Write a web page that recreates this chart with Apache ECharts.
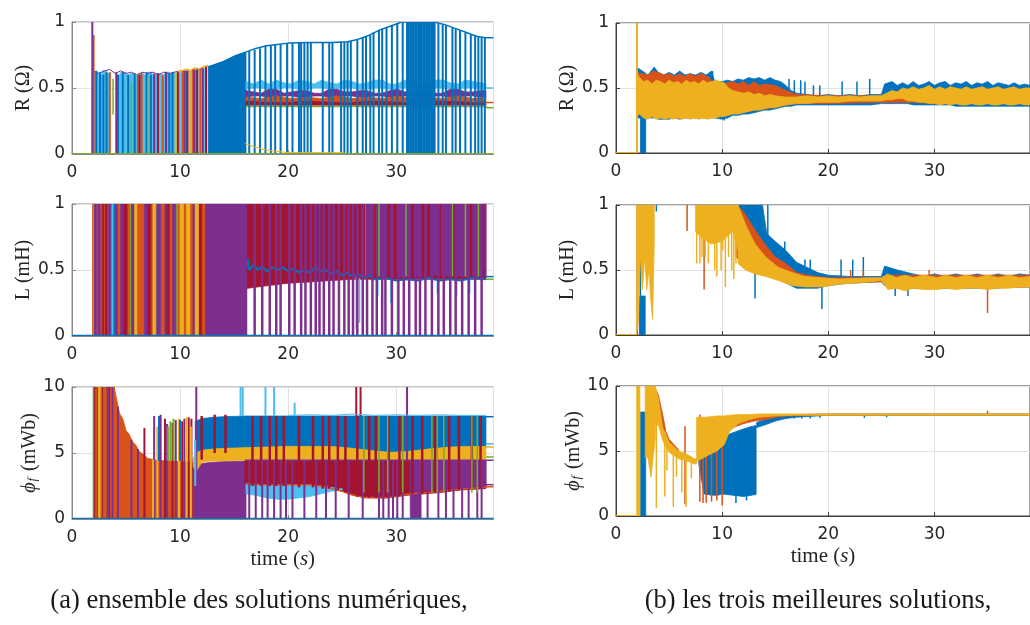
<!DOCTYPE html>
<html><head><meta charset="utf-8">
<script src="https://cdn.jsdelivr.net/npm/echarts@6/dist/echarts.min.js"></script>
<style>html,body{margin:0;padding:0;background:#fff}#c{width:1030px;height:625px}</style>
</head><body><div id="c"></div>
<script>
// ---------- axis ticks / labels ----------
const xTicks = [0, 10, 20, 30];
const xMax = 39;
const rTicks = [0, 0.5, 1];
const phiTicks = [0, 5, 10];
const captionA = '(a) ensemble des solutions numériques,';
const captionB = '(b) les trois meilleures solutions,';

// ---------- (a) R ----------
const aR_lblueBlocks = [[2.05,2.4,0,0.62],[2.4,2.8,0,0.6],[2.8,3.2,0,0.63],[3.2,3.5,0,0.61],[4.1,4.5,0,0.6],[4.5,5.0,0,0.62],[5.0,5.4,0,0.6],[5.4,5.8,0,0.61],[5.8,6.2,0,0.59],[6.2,6.6,0,0.61],[6.6,7.0,0,0.6],[7.0,7.4,0,0.62],[7.4,7.8,0,0.6],[7.8,8.2,0,0.61],[8.2,8.6,0,0.6],[8.6,9.0,0,0.62],[9.0,9.4,0,0.61],[9.4,10.0,0,0.62]];
const aR_purpleTop = [[2.0,0.63],[2.5,0.61],[3.0,0.63],[3.5,0.64],[4.0,0.61],[4.5,0.63],[5.0,0.61],[5.5,0.62],[6.0,0.6],[6.5,0.62],[7.0,0.61],[7.5,0.62],[8.0,0.6],[8.5,0.62],[9.0,0.61],[9.5,0.62],[10.0,0.63]];
const aR_yellowTop = [[9.8,0.62],[10.2,0.63],[10.6,0.64],[11.0,0.63],[11.4,0.65],[11.8,0.64],[12.2,0.66],[12.6,0.67]];
const aR_blueStripes = [[2.25,0,0.63],[2.6,0,0.62],[2.9,0,0.6],[3.2,0,0.62],[4.25,0,0.6],[4.7,0,0.62],[5.2,0,0.6],[5.8,0,0.61],[6.9,0,0.62],[7.3,0,0.6],[9.0,0,0.61],[9.3,0,0.62],[10.6,0,0.63],[11.5,0,0.64]];
const aR_orangeStripes = [[2.0,0,0.9],[3.5,0,0.62],[6.1,0,0.6],[6.45,0,0.61],[8.4,0,0.6],[10.25,0,0.63],[11.2,0,0.64],[11.9,0,0.65]];
const aR_dredStripes = [[6.25,0,0.6],[7.95,0,0.61],[9.8,0,0.62],[10.7,0,0.63],[11.6,0,0.64],[12.4,0,0.66]];
const aR_purpleStripes = [[1.88,0,1.0],[4.1,0,0.62],[7.6,0,0.61],[8.7,0,0.62],[10.4,0,0.63],[11.3,0,0.64],[12.1,0,0.65]];
const aR_greenStripes = [[3.8,0.3,0.57],[5.5,0,0.55],[7.0,0,0.58]];
const aR_yellowStripes = [[9.6,0,0.62],[10.9,0,0.63]];
const aR_lblueStripes = [[10.1,0,0.62],[10.5,0,0.63],[11.0,0,0.63],[11.8,0,0.64],[12.2,0,0.65]];
const aR_blueArea = [[12.6,0.66],[13,0.67],[14,0.7],[15,0.74],[16.1,0.77]];
const aR_blueEnv = [[12.6,0.66],[13,0.67],[14,0.7],[15,0.74],[16,0.77],[17,0.8],[18,0.82],[19,0.83],[20,0.84],[22,0.845],[24,0.845],[25.5,0.85],[26.5,0.87],[27.5,0.9],[28.5,0.94],[29.5,0.97],[30.5,1.0],[33.5,1.0],[34.5,0.98],[35.5,0.95],[36.5,0.92],[37.5,0.89],[38.3,0.88],[39,0.88]];
const aR_blueSpikes = [[16.4,0,0.78],[16.9,0,0.79],[17.4,0,0.8],[17.9,0,0.82],[18.4,0,0.82],[18.8,0,0.83],[19.3,0,0.83],[19.9,0,0.84],[20.4,0,0.84],[21.0,0,0.845],[21.2,0,0.845],[21.5,0,0.845],[21.8,0,0.845],[22.1,0,0.845],[23.2,0,0.845],[23.8,0,0.845],[24.1,0,0.845],[24.9,0,0.85],[25.2,0,0.85],[25.5,0,0.85],[25.8,0,0.855],[26.4,0,0.87],[26.9,0,0.88],[27.2,0,0.89],[27.6,0,0.9],[27.9,0,0.92],[28.4,0,0.94],[28.7,0,0.95],[29.1,0,0.96],[29.6,0,0.97],[30.1,0,0.99],[30.6,0,1],[31.0,0,1],[31.15,0,1],[31.3,0,1],[31.45,0,1],[31.6,0,1],[31.75,0,1],[31.9,0,1],[32.05,0,1],[32.2,0,1],[32.35,0,1],[32.5,0,1],[32.65,0,1],[32.8,0,1],[32.95,0,1],[33.1,0,1],[33.25,0,1],[33.4,0,1],[33.55,0,1],[33.9,0,0.99],[34.3,0,0.985],[34.6,0,0.975],[35.2,0,0.96],[35.5,0,0.95],[35.9,0,0.94],[36.4,0,0.92],[36.9,0,0.905],[37.3,0,0.895],[37.6,0,0.89],[37.9,0,0.885],[38.2,0,0.88]];
const aR_lblueBand = [[16.1,0.49,0.55],[16.8,0.5,0.53],[17.5,0.5,0.56],[18.2,0.49,0.53],[18.9,0.49,0.56],[19.6,0.5,0.54],[20.3,0.5,0.53],[21,0.49,0.56],[21.7,0.49,0.55],[22.4,0.5,0.53],[23.1,0.5,0.56],[23.8,0.49,0.54],[24.5,0.49,0.53],[25.2,0.5,0.56],[25.9,0.5,0.55],[26.6,0.49,0.53],[27.3,0.49,0.54],[28,0.5,0.56],[28.7,0.5,0.56],[29.4,0.49,0.53],[30.1,0.49,0.53],[30.8,0.5,0.56],[31.5,0.5,0.55],[32.2,0.49,0.53],[32.9,0.49,0.54],[33.6,0.5,0.56],[34.3,0.5,0.56],[35,0.49,0.54],[35.7,0.49,0.53],[36.4,0.5,0.56],[37.1,0.5,0.55],[37.8,0.49,0.54],[38.3,0.49,0.53]];
const aR_purpleBand = [[16.1,0.43,0.48],[16.8,0.44,0.47],[17.5,0.44,0.46],[18.2,0.43,0.49],[18.9,0.43,0.49],[19.6,0.44,0.46],[20.3,0.44,0.47],[21,0.43,0.48],[21.7,0.43,0.48],[22.4,0.44,0.46],[23.1,0.44,0.46],[23.8,0.43,0.49],[24.5,0.43,0.49],[25.2,0.44,0.47],[25.9,0.44,0.47],[26.6,0.43,0.48],[27.3,0.43,0.48],[28,0.44,0.46],[28.7,0.44,0.46],[29.4,0.43,0.48],[30.1,0.43,0.49],[30.8,0.44,0.47],[31.5,0.44,0.47],[32.2,0.43,0.48],[32.9,0.43,0.48],[33.6,0.44,0.46],[34.3,0.44,0.46],[35,0.43,0.49],[35.7,0.43,0.49],[36.4,0.44,0.47],[37.1,0.44,0.47],[37.8,0.43,0.48],[38.3,0.43,0.48]];
const aR_orangeBand = [[16.1,0.39,0.43],[17.5,0.4,0.42],[18.9,0.39,0.44],[20.3,0.4,0.42],[21.7,0.39,0.43],[23.1,0.4,0.42],[24.5,0.39,0.44],[25.9,0.4,0.42],[27.3,0.39,0.43],[28.7,0.4,0.42],[30.1,0.39,0.44],[31.5,0.4,0.42],[32.9,0.39,0.43],[34.3,0.4,0.42],[35.7,0.39,0.44],[37.1,0.4,0.42],[38.3,0.39,0.43]];
const aR_dredBand = [[16.1,0.37,0.4],[19,0.37,0.39],[22,0.37,0.4],[25,0.37,0.39],[28,0.37,0.4],[31,0.37,0.39],[34,0.37,0.4],[38.3,0.37,0.39]];
const aR_greenLine = [[16.1,0.36],[38.3,0.36],[38.4,0.35],[39,0.35]];
const aR_lblueEnd = [[38.3,0.5],[39,0.5]];
const aR_orangeEnd = [[38.3,0.39],[39,0.39]];
const aR_yellowLow = [[16,0.08],[17,0.05],[18,0.03],[20,0.01],[25,0.01],[25.5,0]];
const aR_greenBase = [[0,0],[39,0]];

// ---------- (a) L : colour blocks [t0, t1, lo, hi] ----------
const aL_orangeBlocks = [[1.9,2.0,0,1],[2.25,2.4,0,1],[2.6,2.8,0,1],[2.95,3.1,0,1],[3.6,3.7,0,1],[4.2,4.5,0,1],[5.1,5.4,0,1],[6.0,6.7,0,1],[7.3,7.5,0,1],[8.2,8.6,0,1],[9.0,9.3,0,1],[9.75,10.0,0,1],[10.3,10.6,0,1],[10.9,11.2,0,1],[12.0,12.35,0,1]];
const aL_greenBlocks = [[2.0,2.08,0,1],[3.25,3.35,0,1],[5.4,5.5,0,1],[7.7,7.85,0,1],[9.6,9.75,0,1]];
const aL_purpleBlocks = [[2.08,2.25,0,1],[2.4,2.6,0,1],[3.35,3.6,0,1],[3.95,4.2,0,1],[4.5,4.8,0,1],[5.5,5.8,0,1],[6.7,7.0,0,1],[7.85,8.2,0,1],[8.6,8.8,0,1],[9.3,9.6,0,1],[11.2,11.4,0,1],[12.35,16.1,0,1]];
const aL_dredBlocks = [[2.8,2.95,0,1],[3.1,3.25,0,1],[4.8,5.1,0,1],[7.0,7.3,0,1],[8.8,9.0,0,1],[11.7,12.0,0,1]];
const aL_yellowBlocks = [[5.8,6.0,0,1],[7.5,7.7,0,1],[10.0,10.3,0,1],[10.6,10.9,0,1],[11.4,11.7,0,1]];
const aL_lblueBlocks = [[3.7,3.8,0,1]];
const aL_blueBlocks = [[3.86,3.95,0,1]];
const aL_dredBand = [[16.1,0.36,1],[18,0.38,1],[20,0.4,1],[22,0.41,1],[24,0.42,1],[26,0.43,1],[28,0.43,1],[38.3,0.43,1]];
const aL_purpleBand = [[26.8,0.46,1],[30,0.45,1],[34,0.46,1],[38.3,0.45,1]];
const aL_dredStripes2 = [[27.0,0.45,1],[28.0,0.45,1],[29.3,0.45,1],[29.9,0.45,1],[31.5,0.45,1],[32.5,0.45,1],[33.0,0.45,1],[34.0,0.45,1],[35.3,0.45,1],[36.9,0.45,1],[38.0,0.45,1]];
const aL_greenStripes2 = [[27.2,0.45,1],[27.8,0.45,1],[28.4,0.45,1],[30.9,0.45,1],[35.2,0.45,1],[36.4,0.45,1],[37.6,0.45,1]];
const aL_purpleSpikes = [[16.1,0,1],[16.9,0,1],[17.6,0,1],[18.3,0,1],[18.9,0,1],[19.3,0,1],[20.1,0,1],[20.6,0,1],[21.2,0,1],[21.6,0,1],[22.1,0,1],[22.55,0,1],[22.9,0,1],[23.3,0,1],[23.8,0,1],[24.2,0,1],[24.7,0,1],[25.2,0,1],[25.6,0,1],[26.0,0,1],[26.4,0,1],[26.9,0,1],[27.3,0,1],[27.8,0,1],[28.2,0,1],[28.7,0,1],[29.0,0,1],[29.6,0,1],[30.2,0,1],[30.7,0,1],[31.2,0,1],[31.8,0,1],[32.2,0,1],[32.7,0,1],[33.3,0,1],[33.9,0,1],[34.4,0,1],[35.0,0,1],[35.5,0,1],[36.1,0,1],[36.7,0,1],[37.3,0,1],[37.9,0,1]];
const aL_blueLine = [[16.2,0.52],[16.3,0.58],[16.4,0.5],[16.8,0.54],[17.2,0.5],[17.6,0.53],[18,0.49],[18.5,0.52],[19,0.5],[19.5,0.52],[20,0.49],[20.5,0.51],[21,0.48],[21.5,0.5],[22,0.48],[22.5,0.52],[23,0.49],[23.5,0.5],[24,0.47],[24.5,0.49],[25,0.46],[25.5,0.48],[26,0.45],[26.5,0.47],[27,0.44],[27.5,0.46],[28,0.43],[29,0.44],[30,0.42],[31,0.43],[32,0.42],[33,0.44],[34,0.42],[35,0.43],[36,0.42],[37,0.44],[38.3,0.43]];
const aL_lblueDips = [[26.3,0.05,0.45],[26.6,0.1,0.44],[28.3,0.3,0.43],[29.5,0.25,0.43],[31.2,0.35,0.43],[33.8,0.32,0.43],[35.6,0.3,0.43],[36.8,0.32,0.43]];
const aL_blueEnd = [[38.3,0.45],[39,0.45]];
const aL_greenEnd = [[38.3,0.43],[39,0.43]];
const aL_blueBase = [[0,0],[39,0]];

// ---------- (a) phi_f ----------
const aP_greenBlocks0 = [[1.95,2.05,0,10],[3.0,3.1,0,10]];
const aP_dredBlocks0 = [[2.05,2.2,0,10],[2.75,2.9,0,10],[3.4,3.55,0,10]];
const aP_orangeBlocks0 = [[2.2,2.35,0,10],[2.6,2.75,0,10],[2.9,3.0,0,10],[3.1,3.25,0,10],[3.55,3.7,0,10],[3.8,3.92,0,10]];
const aP_purpleBlocks0 = [[2.35,2.45,0,10],[3.25,3.4,0,10],[3.7,3.8,0,10]];
const aP_yellowBlocks0 = [[2.45,2.6,0,10]];
const aP_orangeDecay = [[3.9,10],[4.4,8.0],[4.7,7.6],[5.0,6.7],[5.3,6.4],[5.6,5.85],[5.9,5.6],[6.25,5.1],[6.6,4.9],[7.0,4.6],[7.8,4.45],[9,4.4],[10,4.35],[11.2,4.3]];
const aP_purpleStripes1 = [[4.25,0,8.5],[5.5,0,6.0],[6.1,0,5.3],[7.6,0,7.8],[8.2,0,7.9],[8.8,0,7.2],[9.6,0,7.5],[10.4,0,7.6],[11.5,0,10]];
const aP_dredStripes1 = [[6.7,0,6.9],[8.6,0,7.6],[9.3,0,7.3],[10.2,0,7.4],[10.8,0,7.7],[11.05,0,7.6]];
const aP_yellowStripes1 = [[7.5,0,4.5],[7.9,0,7.0],[9.9,0,7.6],[10.6,0,7.7],[11.0,0,7.0]];
const aP_greenStripes1 = [[8.9,4.4,7.0],[9.1,4.4,7.4],[9.4,4.4,7.6]];
const aP_blueStripes1 = [[8.05,4.4,7.8],[10.0,4.4,7.5]];
const aP_lblueStripes1 = [[11.4,2.5,6.0]];
const aP_purpleArea = [[11.2,4.0],[12,4.2],[13,4.3],[14,4.35],[16.1,4.4]];
const aP_dredBand = [[16,2.6,4.45],[20,2.6,4.45],[24,2.3,4.45],[25.5,2.0,4.45],[27,1.6,4.45],[29,1.6,4.45],[31,1.8,4.45],[34,2.0,4.45],[36,2.2,4.45],[38.3,2.3,4.45]];
const aP_purpleBand = [[31.3,2.1,4.4],[33,2.2,4.4],[35,2.3,4.4],[38.3,2.4,4.4]];
const aP_purpleDense = [[31.3,4.4],[31.8,4.4],[32.3,4.4]];
const aP_lblueBand = [[16.1,1.9,2.7],[17,1.8,2.6],[18,1.6,2.6],[19,1.5,2.6],[20,1.5,2.6],[21,1.6,2.6],[22,1.7,2.6],[23,1.9,2.5],[24,2.1,2.4],[25,2.2,2.3]];
const aP_orangeLine = [[16.1,2.65],[18,2.6],[20,2.6],[22,2.6],[23,2.5],[24,2.3],[25,2.1],[26,1.8],[27,1.65],[29,1.6],[30,1.7],[31,1.9],[33,2.0],[35,2.2],[38.3,2.4],[38.4,2.45],[39,2.45]];
const aP_blueBand = [[11.4,5.0,7.4],[12,5.2,7.6],[13,5.3,7.7],[14,5.35,7.75],[16,5.4,7.8],[20,5.5,7.8],[25,5.45,7.8],[28,5.15,7.8],[30,5.05,7.8],[33,5.3,7.8],[36,5.5,7.8],[38.3,5.5,7.8]];
const aP_yellowBand = [[11.2,4.0,4.6],[11.5,3.6,5.0],[12,4.3,5.2],[13,4.4,5.3],[14,4.4,5.35],[16,4.45,5.4],[18,4.45,5.45],[20,4.45,5.5],[22,4.45,5.5],[24,4.45,5.5],[26,4.45,5.35],[28,4.45,5.15],[29.5,4.45,5.05],[31,4.45,5.1],[33,4.5,5.3],[35,4.5,5.45],[37,4.5,5.5],[38.3,4.5,5.5]];
const aP_purpleLine = [[16,4.45],[38.3,4.45]];
const aP_dredSpikes = [[12.0,4.5,7.8],[13.2,5,7.9],[14.2,5,7.9],[16.7,2.5,7.8],[17.5,2.5,7.8],[18.3,2.5,7.8],[18.9,2.5,7.8],[19.6,2.5,7.8],[21.0,2.4,7.8],[22.3,2.4,7.8],[23.2,2.3,7.8],[23.8,2.3,7.8],[24.6,2.2,7.8],[25.3,2.0,7.8],[26.4,1.7,7.8],[27.5,1.6,7.8],[28.1,1.6,7.8],[29.3,1.6,7.8],[30.3,1.7,7.8],[31.5,1.9,7.8],[32.4,1.9,7.8],[33.6,2.0,7.8],[34.9,2.1,7.8],[35.8,2.2,7.8],[37.0,2.3,7.8],[37.8,2.3,7.8]];
const aP_purpleSpikes = [[16.4,0,4.45],[17.0,0,4.45],[17.6,0,4.45],[18.1,0,4.45],[18.7,0,4.45],[19.3,0,4.45],[19.8,0,4.45],[20.4,0,4.45],[21.5,0,4.45],[22.6,0,4.45],[23.5,0,4.45],[24.4,0,4.45],[25.6,0,4.45],[26.9,0,4.45],[28.4,0,4.45],[28.8,0,4.45],[29.3,0,4.45],[29.7,0,4.45],[30.1,0,4.45],[30.6,0,4.45],[32.1,0,4.45],[32.9,0,4.45],[33.9,0,4.45],[34.6,0,4.45],[35.3,0,4.45],[36.1,0,4.45],[36.7,0,4.45],[37.5,0,4.45],[37.9,0,4.45]];
const aP_greenSpikes = [[27.0,2,7.8],[28.4,2,7.8],[29.2,2,7.8],[30.6,2,7.8],[33.3,2,7.8],[33.8,2,7.8],[34.4,2,7.8],[37.0,2,7.8],[37.5,2,7.8]];
const aP_lblueTop = [[15.6,7.8,10],[15.8,7.8,10],[17.9,7.8,10],[18.7,7.8,10],[20.6,7.8,8.8]];
const aP_dredTop = [[26.3,7.8,10],[26.7,7.8,10]];
const aP_purpleTop = [[31.0,4.4,10]];
const aP_lblueNoise = [[20,7.85],[22,7.9],[24,7.85],[26,7.95],[28,7.85],[30,7.9],[32,7.85],[34,7.9],[36,7.85],[38.3,7.85]];
const aP_blueEnd = [[38.3,7.75],[39,7.75]];
const aP_lblueEnd = [[38.3,5.7],[39,5.7]];
const aP_yellowEnd = [[38.3,5.45],[39,5.45]];
const aP_greenEnd = [[38.3,4.7],[39,4.7]];
const aP_purpleEnd = [[38.3,4.45],[39,4.45]];
const aP_purpleEnd2 = [[38.3,2.6],[39,2.6]];
const aP_blueBase = [[0,0],[39,0]];

// ---------- (b) R ----------
const bR_zero = [[0,0],[1.95,0]];
const bR_blueBand = [[1.95,0.27,0.66],[2.5,0.27,0.63],[3,0.27,0.6],[3.6,0.27,0.66],[4,0.26,0.62],[4.5,0.26,0.6],[5,0.26,0.62],[5.5,0.27,0.6],[6,0.26,0.63],[6.5,0.27,0.6],[7,0.27,0.61],[7.5,0.27,0.6],[8,0.27,0.62],[8.5,0.27,0.6],[9,0.27,0.63],[9.3,0.27,0.55],[10,0.26,0.55],[10.5,0.27,0.56],[11,0.29,0.55],[11.5,0.29,0.57],[12,0.3,0.56],[12.5,0.3,0.58],[13,0.31,0.57],[13.5,0.32,0.58],[14,0.33,0.56],[14.5,0.33,0.58],[15,0.34,0.56],[15.5,0.35,0.55],[16,0.36,0.52],[16.5,0.36,0.48],[17,0.37,0.46],[18,0.37,0.45],[19,0.37,0.44],[20,0.37,0.45],[21,0.37,0.44],[22,0.37,0.45],[23,0.37,0.44],[24,0.37,0.45],[25,0.38,0.45],[25.3,0.38,0.53],[26,0.38,0.55],[26.5,0.38,0.52],[27,0.38,0.54],[27.5,0.38,0.52],[28,0.37,0.55],[28.5,0.37,0.52],[29,0.37,0.53],[29.5,0.37,0.55],[30,0.37,0.52],[30.5,0.37,0.54],[31,0.37,0.55],[31.5,0.37,0.52],[32,0.36,0.54],[32.5,0.36,0.53],[33,0.36,0.55],[33.5,0.36,0.52],[34,0.36,0.54],[34.5,0.36,0.53],[35,0.36,0.55],[35.5,0.36,0.52],[36,0.36,0.54],[36.5,0.36,0.53],[37,0.36,0.52],[37.5,0.36,0.54],[38,0.36,0.52],[38.5,0.36,0.53],[39,0.36,0.52]];
const bR_blueDown = [[2.3,0,0.3],[2.8,0,0.3]];
const bR_blueSpikes = [[3.6,0.5,0.66],[9.1,0.5,0.63],[16.3,0.45,0.57],[16.8,0.45,0.56],[17.4,0.44,0.56],[17.8,0.44,0.55],[18.6,0.44,0.52],[19.2,0.44,0.52],[21.3,0.44,0.55],[22.7,0.44,0.55],[23.9,0.44,0.57],[10.2,0.25,0.3]];
const bR_orangeBand = [[1.95,0.3,0.62],[3,0.3,0.6],[3.5,0.3,0.63],[4,0.3,0.62],[4.5,0.3,0.6],[5,0.3,0.61],[5.5,0.3,0.59],[6,0.3,0.61],[6.5,0.3,0.59],[7,0.3,0.61],[7.5,0.3,0.59],[8,0.3,0.61],[8.8,0.3,0.58],[9.2,0.3,0.52],[10,0.3,0.53],[11,0.31,0.55],[11.5,0.31,0.53],[12,0.32,0.55],[12.5,0.32,0.52],[13,0.33,0.55],[13.5,0.33,0.52],[14,0.34,0.53],[15,0.35,0.52],[16,0.37,0.48],[17,0.38,0.45],[20,0.38,0.44],[25,0.39,0.44],[26,0.39,0.47],[28,0.39,0.48],[30,0.38,0.48],[39,0.38,0.48]];
const bR_yellowBand = [[1.95,0.28,0.62],[2.2,0.3,0.58],[2.6,0.27,0.55],[3.0,0.26,0.56],[3.4,0.28,0.53],[3.8,0.26,0.56],[4.2,0.27,0.55],[4.6,0.26,0.53],[5.0,0.27,0.56],[5.4,0.26,0.54],[5.8,0.27,0.55],[6.2,0.26,0.53],[6.6,0.27,0.56],[7.0,0.26,0.54],[7.4,0.27,0.55],[7.8,0.26,0.53],[8.2,0.27,0.56],[8.6,0.26,0.54],[9.0,0.27,0.55],[9.4,0.27,0.56],[9.8,0.28,0.55],[10.2,0.28,0.54],[10.6,0.29,0.5],[11,0.3,0.48],[11.5,0.3,0.47],[12,0.31,0.46],[12.5,0.32,0.47],[13,0.33,0.45],[13.5,0.33,0.46],[14,0.34,0.44],[14.5,0.35,0.45],[15,0.35,0.44],[16,0.37,0.43],[17,0.38,0.43],[18,0.38,0.44],[19,0.39,0.43],[20,0.39,0.44],[21,0.39,0.43],[22,0.4,0.44],[23,0.4,0.43],[24,0.4,0.44],[25,0.4,0.44],[25.5,0.41,0.46],[26,0.41,0.48],[26.5,0.42,0.47],[27,0.42,0.5],[27.5,0.4,0.49],[28,0.4,0.51],[28.5,0.39,0.49],[29,0.39,0.5],[29.5,0.38,0.52],[30,0.38,0.49],[30.5,0.37,0.51],[31,0.38,0.49],[31.5,0.37,0.51],[32,0.38,0.5],[32.5,0.37,0.49],[33,0.37,0.51],[33.5,0.38,0.49],[34,0.37,0.5],[34.5,0.37,0.51],[35,0.38,0.49],[35.5,0.37,0.5],[36,0.37,0.51],[36.5,0.38,0.49],[37,0.37,0.5],[37.5,0.37,0.51],[38,0.38,0.49],[38.5,0.37,0.5],[39,0.37,0.5]];
const bR_yellowSpike = [[1.97,0,1.0]];

// ---------- (b) L ----------
const bL_zero = [[0,0],[1.95,0]];
const bL_blueDown = [[2.2,0,0.3],[2.75,0,0.3]];
const bL_blueSpikes0 = [[2.3,0,0.7],[3.8,0.95,1.0]];
const bL_orangeSpikes0 = [[2.0,0,1.0],[6.7,0.8,1.0],[8.3,0.35,1.0]];
const bL_yellowEarly = [[1.95,0.02,1],[2.1,0.1,1],[2.3,0.6,1],[2.5,0.35,1],[2.7,0.6,1],[2.9,0.35,1],[3.1,0.5,1],[3.3,0.25,1],[3.45,0.12,1],[3.6,0.7,1]];
const bL_yellowTopFill = [[7.5,0.8,1],[8,0.75,1],[9,0.7,1],[10,0.72,1],[11,0.8,1],[11.5,0.65,1]];
const bL_yellowSpikes = [[7.6,0.55,1],[7.9,0.55,1],[8.1,0.6,1],[8.4,0.6,1],[8.7,0.55,1],[9.3,0.5,1],[9.5,0.45,1],[9.9,0.5,1],[10.05,0.65,1],[10.3,0.37,1],[10.6,0.6,1],[10.9,0.5,1],[11.1,0.43,1],[11.3,0.55,1]];
const bL_blueBand = [[11.4,0.6,1],[12,0.6,1],[13,0.55,1],[13.8,0.5,1],[14.2,0.48,0.78],[15,0.45,0.72],[16,0.4,0.65],[17,0.36,0.56],[18,0.36,0.52],[19,0.36,0.48],[20,0.38,0.46],[22,0.4,0.45],[25,0.41,0.45],[25.3,0.38,0.53],[26.5,0.38,0.5],[28,0.36,0.47],[29,0.36,0.45],[30,0.36,0.47],[31,0.36,0.45],[32,0.36,0.47],[33,0.36,0.45],[34,0.36,0.47],[35,0.36,0.45],[36,0.36,0.47],[37,0.37,0.45],[38,0.37,0.47],[39,0.37,0.46]];
const bL_blueSpikes = [[13.1,0.28,0.5],[15.9,0.55,0.72],[17.8,0.45,0.58],[18.3,0.45,0.58],[19.4,0.2,0.4],[21.2,0.43,0.58],[22.3,0.43,0.58],[23.3,0.43,0.6],[26.3,0.3,0.45],[27.5,0.3,0.4],[12.6,0.7,1],[13.3,0.6,1],[14.3,0.6,1]];
const bL_orangeBand = [[11.3,0.6,1],[12,0.55,0.95],[13,0.5,0.82],[14,0.47,0.7],[15,0.44,0.6],[16,0.4,0.55],[17,0.38,0.48],[18,0.38,0.46],[20,0.39,0.44],[25,0.41,0.44],[26,0.36,0.46],[30,0.36,0.46],[39,0.37,0.46]];
const bL_orangeSpikes = [[22.1,0.42,0.5],[23.3,0.42,0.5],[29.5,0.42,0.5],[35.0,0.17,0.4]];
const bL_yellowBand = [[11.5,0.55,1],[12.2,0.5,0.85],[13.1,0.47,0.7],[14.1,0.45,0.6],[15.3,0.42,0.52],[16.6,0.38,0.48],[17.8,0.37,0.45],[19.4,0.37,0.44],[20.9,0.39,0.43],[24,0.41,0.44],[25,0.42,0.44],[25.6,0.35,0.47],[26.4,0.36,0.44],[27.2,0.34,0.46],[28,0.36,0.44],[29,0.35,0.46],[30.3,0.35,0.44],[31,0.36,0.46],[32,0.35,0.44],[33,0.36,0.46],[34,0.36,0.44],[35,0.35,0.46],[36,0.36,0.44],[37,0.36,0.46],[38,0.37,0.44],[39,0.37,0.45]];

// ---------- (b) phi_f ----------
const bP_zero = [[0,0],[1.95,0]];
const bP_yellowEarly = [[1.95,0,10],[2.25,0,10]];
const bP_blueDown = [[2.3,0,8],[2.8,0,8]];
const bP_yellowEarly2 = [[2.75,4.5,10],[3.0,4.5,10],[3.3,3,10],[3.7,6,10]];
const bP_orangeDecay = [[3.6,8,10],[4.0,7.5,9.3],[4.4,6.3,7.8],[4.7,5.6,6.5],[5.0,5.1,5.9],[5.9,4.6,5.1]];
const bP_yellowDecay = [[3.7,7,10],[4.0,7.0,9.0],[4.4,5.8,6.8],[5.0,4.9,5.7],[5.9,4.4,5.0],[6.8,4.2,4.7],[7.4,4.0,4.4],[7.6,4.0,4.4]];
const bP_yellowSpikesDown = [[3.8,0.6,9],[4.6,1.5,6.5],[4.8,3.5,6],[5.4,0.7,5.2],[5.7,3.0,5.0],[6.2,1.8,4.8],[6.6,0.7,4.6],[7.1,2.9,4.4]];
const bP_orangeSpikes = [[6.5,0.9,6.9],[7.9,1.1,7.8],[8.2,1.0,7.0],[8.5,1.0,6.5],[9.0,1.1,6.8],[9.5,1.2,7.0],[10.0,0.8,7.3],[35.0,7.8,8.1]];
const bP_blueBand1 = [[7.8,4.0,4.4],[8.3,1.7,4.6],[9,1.6,5.2],[9.6,1.6,5.8],[10,1.7,6.1],[11,1.6,6.4],[12,1.5,6.7],[12.8,1.6,6.9],[13.2,1.7,6.9]];
const bP_blueBand2 = [[13.25,6.8,7.2],[14,7.0,7.4],[15,7.3,7.6],[16,7.5,7.75],[17,7.6,7.8],[20,7.75,7.85],[39,7.75,7.85]];
const bP_blueSpikes = [[11.3,1.0,2],[12.3,1.2,2],[13.1,1.6,7.0],[16.8,7.5,7.8],[17.5,7.5,7.8],[18.3,7.5,7.8],[19.2,7.55,7.8],[23.4,7.55,7.8],[25.5,7.6,7.8]];
const bP_orangeBand = [[10,6.5,7.3],[11,6.8,7.4],[12,7.1,7.5],[13,7.3,7.6],[14,7.4,7.7],[15,7.6,7.75],[16,7.7,7.8],[20,7.75,7.82],[39,7.75,7.82]];
const bP_yellowBand = [[7.6,4.2,7.6],[8.5,4.6,7.6],[9.5,5.0,7.7],[10.2,5.5,7.7],[10.7,6.5,7.75],[11.5,7.1,7.8],[12.5,7.4,7.8],[13.5,7.6,7.85],[15,7.7,7.85],[17,7.75,7.85],[39,7.75,7.85]];

// ---------- layers (draw order per panel) ----------
const C = {blue:'#0072BD', orange:'#D95319', yellow:'#EDB120', purple:'#7E2F8E', green:'#77AC30', lblue:'#4DBEEE', dred:'#A2142F'};
const panels = [
 [ ['blocks',aR_lblueBlocks,'lblue'],['line',aR_purpleTop,'purple',1],['line',aR_yellowTop,'yellow',2],
   ['spikes',aR_lblueStripes,'lblue',2],['spikes',aR_blueStripes,'blue',2],['spikes',aR_orangeStripes,'orange',2],['spikes',aR_dredStripes,'dred',2],
   ['spikes',aR_purpleStripes,'purple',2],['spikes',aR_greenStripes,'green',1.5],['spikes',aR_yellowStripes,'yellow',2],
   ['area',aR_blueArea,'blue'],['band',aR_lblueBand,'lblue'],['band',aR_purpleBand,'purple'],['band',aR_orangeBand,'orange'],['band',aR_dredBand,'dred'],
   ['line',aR_greenLine,'green',1.5],['line',aR_lblueEnd,'lblue',1.5],['line',aR_orangeEnd,'orange',1.5],
   ['spikes',aR_blueSpikes,'blue',2],['line',aR_blueEnv,'blue',1.5],['line',aR_yellowLow,'yellow',1],['line',aR_greenBase,'green',2] ],
 [ ['blocks',aL_orangeBlocks,'orange'],['blocks',aL_greenBlocks,'green'],['blocks',aL_purpleBlocks,'purple'],['blocks',aL_dredBlocks,'dred'],
   ['blocks',aL_yellowBlocks,'yellow'],['blocks',aL_lblueBlocks,'lblue'],['blocks',aL_blueBlocks,'blue'],
   ['band',aL_dredBand,'dred'],['band',aL_purpleBand,'purple'],
   ['spikes',aL_dredStripes2,'dred',3],['spikes',aL_greenStripes2,'green',1.5],['spikes',aL_lblueDips,'lblue',1.5],
   ['line',aL_blueLine,'blue',2],['spikes',aL_purpleSpikes,'purple',2.5],['line',aL_blueEnd,'blue',1.5],['line',aL_greenEnd,'green',1.5],['line',aL_blueBase,'blue',2.5] ],
 [ ['blocks',aP_greenBlocks0,'green'],['blocks',aP_dredBlocks0,'dred'],['blocks',aP_orangeBlocks0,'orange'],['blocks',aP_purpleBlocks0,'purple'],['blocks',aP_yellowBlocks0,'yellow'],
   ['area',aP_orangeDecay,'orange'],['band',aP_blueBand,'blue'],['area',aP_purpleArea,'purple'],
   ['band',aP_dredBand,'dred'],['band',aP_purpleBand,'purple'],['area',aP_purpleDense,'purple'],
   ['band',aP_lblueBand,'lblue'],['line',aP_orangeLine,'orange',1.5],['band',aP_yellowBand,'yellow'],['line',aP_purpleLine,'purple',1.5],
   ['spikes',aP_purpleStripes1,'purple',2],['spikes',aP_dredStripes1,'dred',2],['spikes',aP_yellowStripes1,'yellow',2],['spikes',aP_greenStripes1,'green',2],
   ['spikes',aP_blueStripes1,'blue',2],['spikes',aP_lblueStripes1,'lblue',2],['spikes',aP_dredSpikes,'dred',2.5],['spikes',aP_purpleSpikes,'purple',2],
   ['spikes',aP_greenSpikes,'green',1.5],['spikes',aP_lblueTop,'lblue',2],['spikes',aP_dredTop,'dred',2],['spikes',aP_purpleTop,'purple',2],
   ['line',aP_lblueNoise,'lblue',1],['line',aP_blueEnd,'blue',1.5],['line',aP_lblueEnd,'lblue',1.5],['line',aP_yellowEnd,'yellow',1.5],
   ['line',aP_greenEnd,'green',1.5],['line',aP_purpleEnd,'purple',1.5],['line',aP_purpleEnd2,'purple',1.5],['line',aP_blueBase,'blue',2.5] ],
 [ ['line',bR_zero,'blue',2],['band',bR_blueBand,'blue'],['band',bR_blueDown,'blue'],['spikes',bR_blueSpikes,'blue',1.5],
   ['band',bR_orangeBand,'orange'],['band',bR_yellowBand,'yellow'],['spikes',bR_yellowSpike,'yellow',2],['line',bR_zero,'yellow',2] ],
 [ ['band',bL_blueDown,'blue'],['spikes',bL_blueSpikes0,'blue',1.5],['spikes',bL_orangeSpikes0,'orange',1.5],
   ['band',bL_blueBand,'blue'],['spikes',bL_blueSpikes,'blue',1.5],['band',bL_orangeBand,'orange'],['spikes',bL_orangeSpikes,'orange',1.5],
   ['band',bL_yellowEarly,'yellow'],['band',bL_yellowTopFill,'yellow'],['spikes',bL_yellowSpikes,'yellow',1.5],['band',bL_yellowBand,'yellow'],['line',bL_zero,'yellow',2] ],
 [ ['band',bP_blueDown,'blue'],['band',bP_blueBand1,'blue'],['band',bP_blueBand2,'blue'],['spikes',bP_blueSpikes,'blue',1.5],
   ['band',bP_orangeDecay,'orange'],['band',bP_orangeBand,'orange'],['spikes',bP_orangeSpikes,'orange',1.5],
   ['band',bP_yellowEarly,'yellow'],['band',bP_yellowEarly2,'yellow'],['band',bP_yellowDecay,'yellow'],['spikes',bP_yellowSpikesDown,'yellow',1.5],
   ['band',bP_yellowBand,'yellow'],['line',bP_zero,'yellow',2] ]
];

function buildLayer(layer, api) {
  const kind = layer[0], d = layer[1], col = C[layer[2]], w = layer[3];
  const out = [];
  if (kind === 'area' || kind === 'band') {
    const pts = [];
    for (let i = 0; i < d.length; i++) pts.push(api.coord([d[i][0], kind === 'area' ? d[i][1] : d[i][2]]));
    for (let i = d.length - 1; i >= 0; i--) pts.push(api.coord([d[i][0], kind === 'area' ? 0 : d[i][1]]));
    out.push({type:'polygon', shape:{points:pts}, style:{fill:col, stroke:col, lineWidth:0.8}});
  } else if (kind === 'blocks') {
    for (let i = 0; i < d.length; i++) {
      const b = d[i];
      const pts = [api.coord([b[0], b[2]]), api.coord([b[1], b[2]]), api.coord([b[1], b[3]]), api.coord([b[0], b[3]])];
      out.push({type:'polygon', shape:{points:pts}, style:{fill:col, stroke:col, lineWidth:0.8}});
    }
  } else if (kind === 'spikes') {
    for (let i = 0; i < d.length; i++) {
      const a = api.coord([d[i][0], d[i][1]]), b = api.coord([d[i][0], d[i][2]]);
      out.push({type:'line', shape:{x1:a[0], y1:a[1], x2:b[0], y2:b[1]}, style:{stroke:col, lineWidth:w, fill:'none'}});
    }
  } else {
    const pts = d.map(p => api.coord([p[0], p[1]]));
    out.push({type:'polyline', shape:{points:pts}, style:{stroke:col, lineWidth:w, fill:'none', lineJoin:'round'}});
  }
  return out;
}
const series = panels.map((layers, g) => ({
  type:'custom', xAxisIndex:g, yAxisIndex:g, clip:true, silent:true, data:[[1, 0.5]], encode:{x:0, y:1},
  renderItem: function(params, api) {
    let children = [];
    layers.forEach(l => { children = children.concat(buildLayer(l, api)); });
    return {type:'group', children:children};
  }
}));

// ---------- axes ----------
const TICKF = 'DejaVu Sans', SERIF = 'Liberation Serif';
const grids = [
  {left:72, top:22, width:421.5, height:132, borderColor:'#8a8a8a'},
  {left:72, top:204, width:421.5, height:132, borderColor:'#8a8a8a'},
  {left:72, top:387, width:421.5, height:132, borderColor:'#8a8a8a'},
  {left:616, top:23, width:421, height:130, borderColor:'#404040'},
  {left:616, top:205, width:421, height:130, borderColor:'#404040'},
  {left:616, top:386, width:421, height:130, borderColor:'#404040'}
].map(g => Object.assign({show:true, borderWidth:1, containLabel:false}, g));

const yNames = ['R (Ω)', 'L (mH)', '{i|ϕ}{s|f} (mWb)'];
const yMax = [rTicks[2], rTicks[2], phiTicks[2]];
const yInt = [rTicks[1], rTicks[1], phiTicks[1]];
const xAxes = [], yAxes = [];
for (let g = 0; g < 6; g++) {
  const k = g % 3;
  const bc = grids[g].borderColor;
  xAxes.push({type:'value', gridIndex:g, min:xTicks[0], max:xMax, interval:xTicks[1]-xTicks[0],
    axisLine:{show:true, lineStyle:{color:bc}}, axisTick:{show:true, inside:true, length:4, lineStyle:{color:bc}},
    axisLabel:{color:'#262626', fontFamily:TICKF, fontSize:17, margin:10, showMaxLabel:false},
    splitLine:{show:true, lineStyle:{color:'#e2e2e2', width:1}},
    name: k === 2 ? '{n|time (}{i|s}{n|)}' : '', nameLocation:'middle', nameGap:30,
    nameTextStyle:{rich:{n:{fontFamily:SERIF, fontSize:21, color:'#262626'}, i:{fontFamily:SERIF, fontSize:21, fontStyle:'italic', color:'#262626'}}}});
  yAxes.push({type:'value', gridIndex:g, min:0, max:yMax[k], interval:yInt[k],
    axisLine:{show:true, lineStyle:{color:bc}}, axisTick:{show:true, inside:true, length:4, lineStyle:{color:bc}},
    axisLabel:{color:'#262626', fontFamily:TICKF, fontSize:17, margin:7, showMaxLabel:true},
    splitLine:{show:true, lineStyle:{color:'#e2e2e2', width:1}},
    name: yNames[k], nameLocation:'middle', nameRotate:90, nameGap: k === 2 ? 32 : 36,
    nameTextStyle:{fontFamily:SERIF, fontSize:20, color:'#262626',
      rich:{i:{fontFamily:SERIF, fontSize:20, fontStyle:'italic', color:'#262626'}, s:{fontFamily:SERIF, fontSize:13, fontStyle:'italic', color:'#262626', verticalAlign:'bottom', padding:[0,2,0,1]}}}});
}

const chart = echarts.init(document.getElementById('c'), null, {renderer:'canvas'});
chart.setOption({
  animation:false,
  grid: grids,
  xAxis: xAxes, yAxis: yAxes, series: series,
  graphic: [
    {type:'text', x:259, y:601, style:{text:captionA, fontFamily:SERIF, fontSize:26.5, fill:'#1a1a1a', align:'center', verticalAlign:'middle'}},
    {type:'text', x:818, y:601, style:{text:captionB, fontFamily:SERIF, fontSize:26.5, fill:'#1a1a1a', align:'center', verticalAlign:'middle'}}
  ]
});
</script></body></html>
